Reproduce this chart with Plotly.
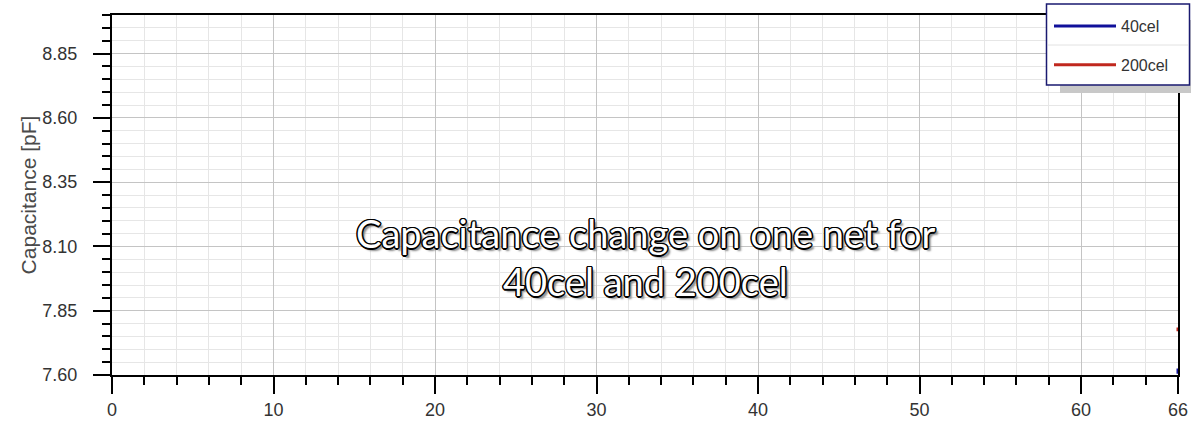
import plotly.graph_objects as go

# ---- data ----
series_names = ["40cel", "200cel"]
series_colors = ["#10109a", "#c0281e"]
x_40cel = [66, 66]
y_40cel = [7.605, 7.625]
x_200cel = [66, 66]
y_200cel = [7.77, 7.785]

x_tick_vals = [0, 10, 20, 30, 40, 50, 60, 66]
x_tick_text = ["0", "10", "20", "30", "40", "50", "60", "66"]
y_tick_vals = [7.60, 7.85, 8.10, 8.35, 8.60, 8.85]
y_tick_text = ["7.60", "7.85", "8.10", "8.35", "8.60", "8.85"]

title_line1 = "Capacitance change on one net for"
title_line2 = "40cel and 200cel"
y_title = "Capacitance [pF]"

W, H = 1191, 423
L, R, T, B = 112, 13, 15, 48
pw, ph = W - L - R, H - T - B

def px_x(px):
    return (px - L) / pw

def px_y(py):
    return (H - B - py) / ph

fig = go.Figure()
fig.add_trace(go.Scatter(x=x_40cel, y=y_40cel, name=series_names[0], mode="lines",
                         line=dict(color=series_colors[0], width=3), legendgroup="a"))
fig.add_trace(go.Scatter(x=x_200cel, y=y_200cel, name=series_names[1], mode="lines",
                         line=dict(color=series_colors[1], width=3), legendgroup="b"))

tick_font = dict(family="Arial, Liberation Sans, sans-serif", size=18, color="#333333")

fig.update_layout(
    width=W, height=H,
    margin=dict(l=L, r=R, t=T, b=B, autoexpand=False),
    paper_bgcolor="white", plot_bgcolor="white",
    showlegend=True,
    legend=dict(
        xref="container", yref="container",
        x=1049 / W, y=1 - 9 / H, xanchor="left", yanchor="top",
        bgcolor="rgba(0,0,0,0)", borderwidth=0,
        font=dict(family="Arial, Liberation Sans, sans-serif", size=16, color="#333333"),
        traceorder="grouped", tracegroupgap=15, itemwidth=62,
    ),
    xaxis=dict(
        range=[0, 66], tickmode="array", tickvals=x_tick_vals, ticktext=x_tick_text,
        showline=True, linecolor="black", linewidth=2, mirror=True,
        ticks="outside", ticklen=17, tickwidth=2, tickcolor="black",
        tickfont=tick_font, showgrid=True, gridcolor="#c4c4c4", gridwidth=1,
        zeroline=False, automargin=False,
        minor=dict(tickmode="linear", tick0=0, dtick=2, ticks="outside", ticklen=8,
                   tickwidth=1.5, tickcolor="black", showgrid=True, gridcolor="#e6e6e6", gridwidth=1),
    ),
    yaxis=dict(
        range=[7.6, 9.0], tickmode="array", tickvals=y_tick_vals, ticktext=y_tick_text,
        showline=True, linecolor="black", linewidth=2, mirror=True,
        ticks="outside", ticklen=17, tickwidth=2, tickcolor="black",
        tickfont=tick_font, showgrid=True, gridcolor="#c4c4c4", gridwidth=1,
        zeroline=False, automargin=False, ticklabelstandoff=12,
        title=dict(text=y_title, font=dict(family="Arial, Liberation Sans, sans-serif", size=21, color="#4a4a4a"), standoff=0),
        minor=dict(tickmode="linear", tick0=7.6, dtick=0.05, ticks="outside", ticklen=8,
                   tickwidth=1.5, tickcolor="black", showgrid=True, gridcolor="#e6e6e6", gridwidth=1),
    ),
)

# legend frame, shadow and separator
fig.add_shape(type="rect", xref="paper", yref="paper",
              x0=px_x(1060), x1=px_x(1191), y0=px_y(93), y1=px_y(20),
              fillcolor="#c8c8c8", line=dict(width=0), layer="above")
fig.add_shape(type="rect", xref="paper", yref="paper",
              x0=px_x(1046.5), x1=px_x(1189.5), y0=px_y(85), y1=px_y(4),
              fillcolor="white", line=dict(color="#1a1a70", width=1.5), layer="above")
fig.add_shape(type="line", xref="paper", yref="paper",
              x0=px_x(1048), x1=px_x(1188), y0=px_y(45), y1=px_y(45),
              line=dict(color="#e2e2e2", width=1), layer="above")

outline = ("-1px -1px 0 #000, 1px -1px 0 #000, -1px 1px 0 #000, 1px 1px 0 #000, "
           "0 -1.5px 0 #000, 0 1.5px 0 #000, -1.5px 0 0 #000, 1.5px 0 0 #000, 3px 3px 2px #888")
title_font = dict(family="Lato, Open Sans, sans-serif", size=38, color="white", shadow=outline)
fig.add_annotation(text=title_line1, xref="paper", yref="paper", x=0.5, y=px_y(233),
                   xanchor="center", yanchor="middle", showarrow=False, font=title_font)
fig.add_annotation(text=title_line2, xref="paper", yref="paper", x=0.5, y=px_y(281),
                   xanchor="center", yanchor="middle", showarrow=False, font=title_font)

fig.write_html("out.html")
